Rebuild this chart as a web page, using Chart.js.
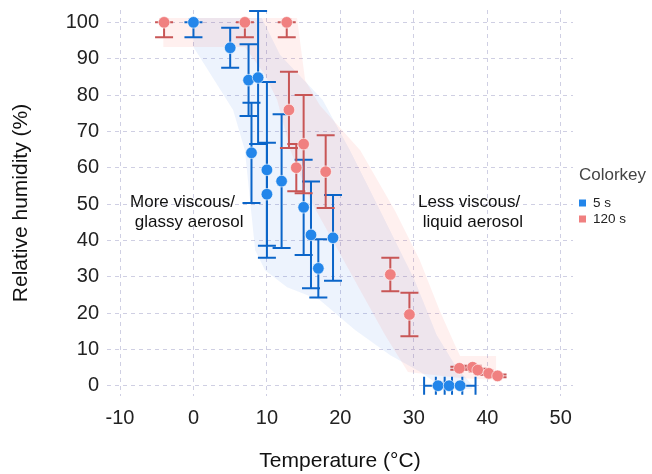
<!DOCTYPE html>
<html>
<head>
<meta charset="utf-8">
<script src="https://cdn.jsdelivr.net/npm/chart.js@4/dist/chart.umd.min.js"></script>
<style>
  html, body { margin: 0; padding: 0; background: #fff; }
</style>
</head>
<body>
<canvas id="chart" width="652" height="474"></canvas>
<script>
// 5 s residence time
const temp5 = [0, 5, 7.5, 8.8, 7.9, 10, 10, 12, 15, 16, 17, 19, 33.3, 34.8, 36.3];
const rh5 = [100, 93, 84.1, 84.8, 64.1, 59.4, 52.7, 56.3, 49.1, 41.5, 32.3, 40.7, 0, 0, 0];
const rhErrLow5 = [4.1, 5.5, 9.9, 18.3, 13.8, 24.2, 14.2, 18.4, 13.1, 14.7, 8.0, 11.8, 0, 0, 0];
const rhErrHigh5 = [0, 5.5, 9.9, 18.3, 13.8, 24.2, 14.2, 18.4, 13.1, 14.7, 8.0, 11.8, 0, 0, 0];
const tempErr5 = [0, 0, 0, 0, 0, 0, 0, 0, 0, 0, 0, 0, 1.9, 1.8, 2.1];

// 120 s residence time
const temp120 = [-4, 7, 12.7, 13, 15, 14, 18, 26.8, 29.4, 36.2, 38.0, 38.7, 40.2, 41.4];
const rh120 = [100, 100, 100, 75.9, 66.5, 60.0, 58.9, 30.6, 19.6, 4.8, 5.1, 4.3, 3.4, 2.7];
const rhErrLow120 = [4.1, 4.1, 4.1, 10.5, 13.5, 6.5, 10, 4.6, 6.0, 0.4, 0.4, 0.4, 0.4, 0.4];
const rhErrHigh120 = [0, 0, 0, 10.5, 13.5, 6.5, 10, 4.6, 6.0, 0.4, 0.4, 0.4, 0.4, 0.4];
const tempErr120 = [0, 0, 0, 0, 0, 0, 0, 0, 0, 0, 0, 0, 0, 0];

// transition bands (outline, temperature / RH)
const bandTemp5 = [0, 9.3, 11.8, 17.6, 21.3, 24.7, 27.4, 30.1, 33.1, 35.6, 37.9, 37.9, 34.2, 30.9, 26.8, 22, 17.2, 12.75, 9.75, 8.4, 7.7, 7, 5.4, 0];
const bandRh5 = [101.2, 101.2, 91, 78.6, 64.8, 51.1, 40.1, 29.1, 14, 5.7, 0.2, -0.9, -0.9, 3.8, 8.4, 15.3, 23.6, 27.1, 31.8, 37.3, 51.1, 64.8, 75.9, 93.2];
const bandTemp120 = [-4.1, 14.1, 15.2, 17.2, 22.7, 27.4, 30.8, 33.5, 35.6, 36.3, 41.2, 41.2, 36.3, 29.2, 26.1, 22.7, 19.3, 15.9, 13.2, 11.4, 9.75, 7, -4.1];
const bandRh120 = [101.2, 101.2, 84.1, 77.2, 64.8, 48.3, 34.6, 20.8, 11.2, 8.2, 8.2, 1.6, 2.1, 3.8, 13.9, 26.3, 38.7, 51.1, 64.8, 78.6, 85.5, 93.2, 93.2];

const xTicks = [-10, 0, 10, 20, 30, 40, 50];
const yTicks = [0, 10, 20, 30, 40, 50, 60, 70, 80, 90, 100];

const notes = [
  { lines: ['More viscous/', ' glassy aerosol'], temp: -8.63, rh: 50.6 },
  { lines: ['Less viscous/', ' liquid aerosol'], temp: 30.58, rh: 50.6 }
];

const FONT = '"Liberation Sans", Arial, sans-serif';
const BLUE = '#2386ea', BLUE_BAR = '#0b65c9';
const RED = '#f08080', RED_BAR = '#c85656';

const bands = [
  { temp: bandTemp5, rh: bandRh5, color: 'rgba(25,105,235,0.08)' },
  { temp: bandTemp120, rh: bandRh120, color: 'rgba(255,70,50,0.08)' }
];

function clipToArea(ctx, a) {
  ctx.beginPath();
  ctx.rect(a.left, a.top, a.right - a.left, a.bottom - a.top);
  ctx.clip();
}

const bandPlugin = {
  id: 'bands',
  beforeDatasetsDraw(chart) {
    const { ctx, chartArea, scales } = chart;
    ctx.save();
    clipToArea(ctx, chartArea);
    bands.forEach(b => {
      ctx.beginPath();
      b.temp.forEach((t, i) => {
        const x = scales.x.getPixelForValue(t);
        const y = scales.y.getPixelForValue(b.rh[i]);
        if (i === 0) ctx.moveTo(x, y); else ctx.lineTo(x, y);
      });
      ctx.closePath();
      ctx.fillStyle = b.color;
      ctx.fill();
    });
    ctx.restore();
  }
};

// error bars are drawn just before each series' markers
const errorBarPlugin = {
  id: 'errorBars',
  beforeDatasetDraw(chart, args) {
    const ds = chart.data.datasets[args.index];
    const e = ds.errorBars;
    if (!e) return;
    const { ctx, chartArea, scales } = chart;
    const cap = 9;
    ctx.save();
    clipToArea(ctx, chartArea);
    ctx.strokeStyle = e.color;
    ctx.lineWidth = 2;
    e.temp.forEach((t, i) => {
      const x = scales.x.getPixelForValue(t);
      const y = scales.y.getPixelForValue(e.rh[i]);
      if (e.low[i] > 0 || e.high[i] > 0) {
        const y0 = scales.y.getPixelForValue(e.rh[i] - e.low[i]);
        const y1 = scales.y.getPixelForValue(e.rh[i] + e.high[i]);
        ctx.beginPath();
        ctx.moveTo(x, y0); ctx.lineTo(x, y1);
        ctx.moveTo(x - cap, y0); ctx.lineTo(x + cap, y0);
        ctx.moveTo(x - cap, y1); ctx.lineTo(x + cap, y1);
        ctx.stroke();
      }
      if (e.tempErr[i] > 0) {
        const x0 = scales.x.getPixelForValue(t - e.tempErr[i]);
        const x1 = scales.x.getPixelForValue(t + e.tempErr[i]);
        ctx.beginPath();
        ctx.moveTo(x0, y); ctx.lineTo(x1, y);
        ctx.moveTo(x0, y - cap); ctx.lineTo(x0, y + cap);
        ctx.moveTo(x1, y - cap); ctx.lineTo(x1, y + cap);
        ctx.stroke();
      }
    });
    ctx.restore();
  }
};

const textPlugin = {
  id: 'texts',
  afterDatasetsDraw(chart) {
    const { ctx, scales } = chart;
    ctx.save();
    ctx.fillStyle = '#111';
    ctx.font = '17px ' + FONT;
    ctx.textAlign = 'left';
    ctx.textBaseline = 'middle';
    notes.forEach(n => {
      const x = scales.x.getPixelForValue(n.temp);
      const y = scales.y.getPixelForValue(n.rh);
      n.lines.forEach((s, i) => ctx.fillText(s, x, y + i * 20));
    });
    ctx.restore();
  },
  afterDraw(chart) {
    const { ctx, chartArea: a } = chart;
    ctx.save();
    ctx.fillStyle = '#111';
    ctx.textAlign = 'center';
    ctx.textBaseline = 'middle';
    ctx.font = '21px ' + FONT;
    ctx.fillText('Temperature (°C)', (a.left + a.right) / 2, 461);
    ctx.translate(21, (a.top + a.bottom) / 2);
    ctx.rotate(-Math.PI / 2);
    ctx.fillText('Relative humidity (%)', 0, 0);
    ctx.restore();

    // legend
    ctx.save();
    ctx.textAlign = 'left';
    ctx.textBaseline = 'middle';
    ctx.fillStyle = '#444';
    ctx.font = '17px ' + FONT;
    ctx.fillText('Colorkey', 579, 175);
    ctx.font = '13.5px ' + FONT;
    [['5 s', BLUE, 203], ['120 s', RED, 219]].forEach(([label, color, y]) => {
      ctx.fillStyle = color;
      ctx.fillRect(579, y - 3.5, 7, 7);
      ctx.fillStyle = '#222';
      ctx.fillText(label, 593, y);
    });
    ctx.restore();
  }
};

function toPoints(temps, rhs) {
  return temps.map((t, i) => ({ x: t, y: rhs[i] }));
}

function axis(min, max, tickValues, size, horizontal) {
  return {
    type: 'linear',
    min: min,
    max: max,
    afterFit: s => {
      if (horizontal) s.height = size; else s.width = size;
      s.paddingTop = 0; s.paddingBottom = 0; s.paddingLeft = 0; s.paddingRight = 0;
    },
    afterBuildTicks: s => { s.ticks = tickValues.map(v => ({ value: v })); },
    grid: { color: '#cfcfe3', lineWidth: 1, drawTicks: false },
    border: { display: false, dash: [4, 4] },
    ticks: {
      padding: horizontal ? 10 : 8,
      color: '#222',
      font: { family: FONT, size: 20 },
      autoSkip: false,
      maxRotation: 0
    }
  };
}

new Chart(document.getElementById('chart'), {
  type: 'scatter',
  data: {
    datasets: [
      {
        label: '120 s',
        data: toPoints(temp120, rh120),
        backgroundColor: RED,
        borderColor: 'rgba(255,255,255,0.6)',
        borderWidth: 1,
        pointRadius: 5.8,
        pointHoverRadius: 5.8,
        order: 1,
        errorBars: { temp: temp120, rh: rh120, low: rhErrLow120, high: rhErrHigh120, tempErr: tempErr120, color: RED_BAR }
      },
      {
        label: '5 s',
        data: toPoints(temp5, rh5),
        backgroundColor: BLUE,
        borderColor: 'rgba(255,255,255,0.6)',
        borderWidth: 1,
        pointRadius: 5.8,
        pointHoverRadius: 5.8,
        order: 2,
        errorBars: { temp: temp5, rh: rh5, low: rhErrLow5, high: rhErrHigh5, tempErr: tempErr5, color: BLUE_BAR }
      }
    ]
  },
  options: {
    responsive: false,
    animation: false,
    layout: { padding: { top: 10, right: 79, bottom: 0, left: 0 } },
    plugins: { legend: { display: false }, tooltip: { enabled: false } },
    scales: {
      x: axis(-11.77, 51.67, xTicks, 78, true),
      y: axis(-2.83, 103.4, yTicks, 107, false)
    }
  },
  plugins: [bandPlugin, errorBarPlugin, textPlugin]
});
</script>
</body>
</html>
